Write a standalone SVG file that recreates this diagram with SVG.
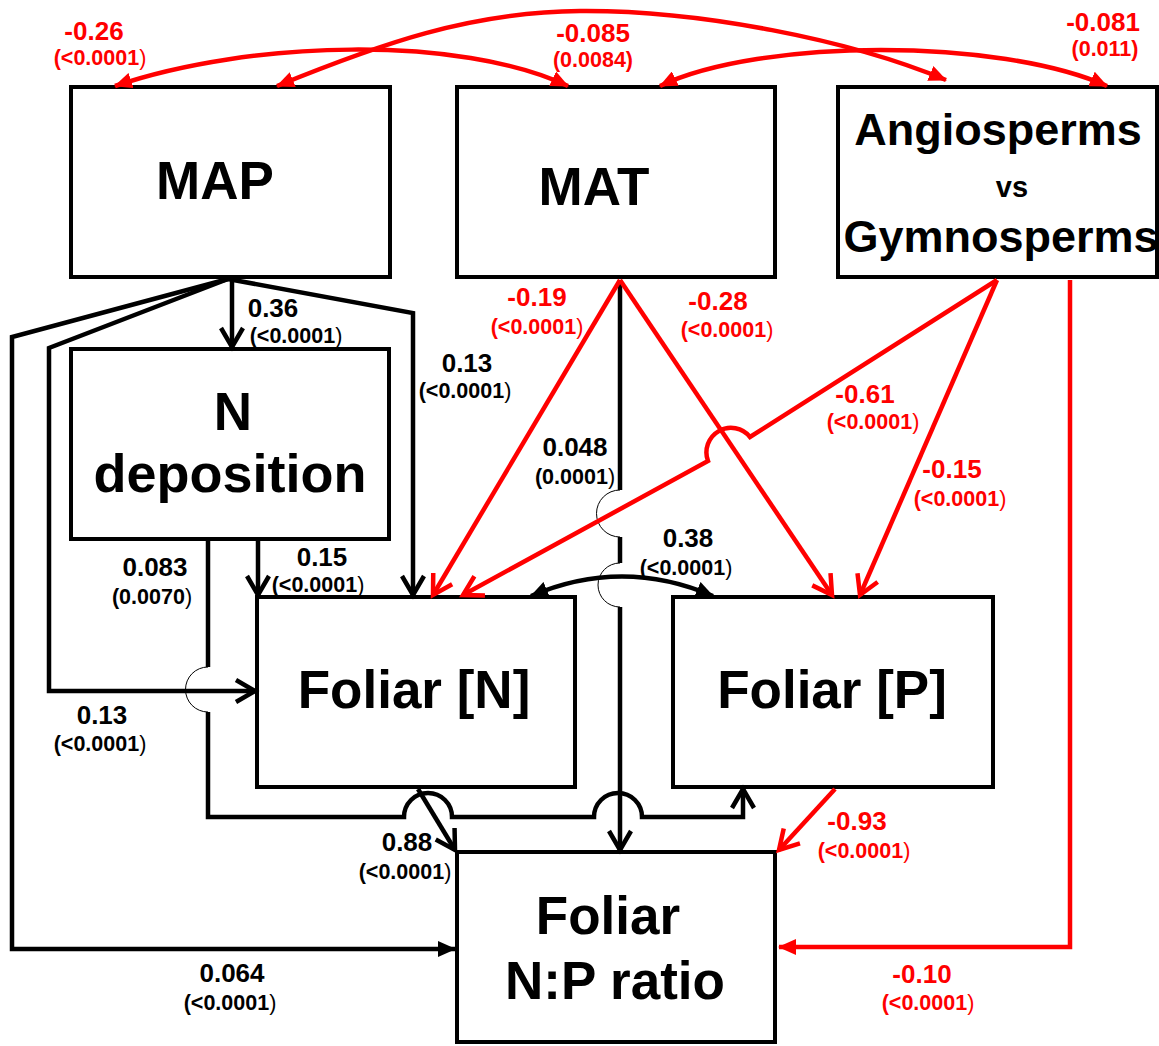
<svg xmlns="http://www.w3.org/2000/svg" width="1159" height="1046" viewBox="0 0 1159 1046">
<style>
.box{fill:#fff;stroke:#000;stroke-width:4}
.n{font-family:"Liberation Sans",Arial,sans-serif;font-weight:bold;font-size:53px;text-anchor:middle;fill:#000}
.c{font-family:"Liberation Sans",Arial,sans-serif;font-weight:bold;font-size:26px;text-anchor:middle}
.p{font-family:"Liberation Sans",Arial,sans-serif;font-weight:bold;font-size:21.5px;text-anchor:middle}
.k{fill:#000}
.r{fill:#f00}
.th{font-weight:normal}
.bl{fill:none;stroke:#000;stroke-width:4.5}
.rl{fill:none;stroke:#f00;stroke-width:4.5}
.hop{fill:none;stroke:#000;stroke-width:1}
</style>
<defs>
<marker id="ob" viewBox="0 0 24 24" markerWidth="24" markerHeight="24" refX="20" refY="12" orient="auto" markerUnits="userSpaceOnUse" style="overflow:visible">
<path d="M1,1 L20,12 L1,23" fill="none" stroke="#000" stroke-width="4.5"/>
</marker>
<marker id="or" viewBox="0 0 24 24" markerWidth="24" markerHeight="24" refX="20" refY="12" orient="auto" markerUnits="userSpaceOnUse" style="overflow:visible">
<path d="M1,1 L20,12 L1,23" fill="none" stroke="#f00" stroke-width="4.5"/>
</marker>
<marker id="fb" viewBox="0 0 18 16" markerWidth="18" markerHeight="16" refX="17" refY="8" orient="auto-start-reverse" markerUnits="userSpaceOnUse">
<path d="M0,0 L18,8 L0,16 z" fill="#000"/>
</marker>
<marker id="fr" viewBox="0 0 18 16" markerWidth="18" markerHeight="16" refX="17" refY="8" orient="auto-start-reverse" markerUnits="userSpaceOnUse">
<path d="M0,0 L18,8 L0,16 z" fill="#f00"/>
</marker>
</defs>
<rect width="1159" height="1046" fill="#fff"/>

<g id="node-map"><rect class="box" x="71" y="87" width="319" height="190"/><text class="n" x="215" y="199">MAP</text></g>
<g id="node-mat"><rect class="box" x="457" y="87" width="318" height="190"/><text class="n" x="594" y="205">MAT</text></g>
<g id="node-angio"><rect class="box" x="838" y="87" width="319" height="190"/>
<text class="n" x="998" y="145" style="font-size:45px">Angiosperms</text>
<text class="n" x="1012" y="197" style="font-size:29px">vs</text>
<text class="n" x="1001" y="252" style="font-size:45px">Gymnosperms</text></g>
<g id="node-ndep"><rect class="box" x="71" y="349" width="318" height="190"/>
<text class="n" x="233" y="430">N</text><text class="n" x="230" y="492" style="font-size:54px">deposition</text></g>
<g id="node-foliarN"><rect class="box" x="257" y="597" width="318" height="190"/><text class="n" x="414" y="708">Foliar [N]</text></g>
<g id="node-foliarP"><rect class="box" x="673" y="597" width="320" height="190"/><text class="n" x="832" y="708">Foliar [P]</text></g>
<g id="node-np"><rect class="box" x="457" y="852" width="318" height="190"/>
<text class="n" x="608" y="934">Foliar</text><text class="n" x="615" y="999">N:P ratio</text></g>

<g id="connectors">
<!-- top correlations -->
<path class="rl" d="M115,86 C250,40 460,35 568,86" marker-start="url(#fr)" marker-end="url(#fr)"/>
<path class="rl" d="M277,86 C380,44 470,12 580,11 C700,10 850,40 946,80" marker-start="url(#fr)" marker-end="url(#fr)"/>
<path class="rl" d="M660,86 C760,38 1000,38 1107,86" marker-start="url(#fr)" marker-end="url(#fr)"/>
<!-- MAP paths -->
<path class="bl" d="M232,279 V347" marker-end="url(#ob)"/>
<path class="bl" d="M228,279 L413,313 V595" marker-end="url(#ob)"/>
<path class="bl" d="M228,279 L12,337 V949 H455" marker-end="url(#fb)"/>
<path class="bl" d="M228,279 L49,348 V691 H255" marker-end="url(#ob)"/>
<!-- N deposition paths -->
<path class="bl" d="M258,539 V595" marker-end="url(#ob)"/>
<path class="bl" d="M208,539 V667"/>
<path class="hop" d="M208,667 A22.5,22.5 0 0 0 208,712"/>
<path class="bl" d="M208,712 V817 H404 A24,24 0 0 1 452,817 H594 A24,24 0 0 1 642,817 H743 V789" marker-end="url(#ob)"/>
<!-- MAT paths -->
<path class="bl" d="M620,280 V490"/>
<path class="hop" d="M620,490 A23.5,23.5 0 0 0 620,537"/>
<path class="bl" d="M620,537 V563"/>
<path class="hop" d="M620,563 A22,22 0 0 0 620,607"/>
<path class="bl" d="M620,607 V850" marker-end="url(#ob)"/>
<path class="rl" d="M620,280 L433,595" marker-end="url(#or)"/>
<path class="rl" d="M620,280 L832,595" marker-end="url(#or)"/>
<!-- Angio paths -->
<path class="rl" d="M997,280 L750,437 A24.5,24.5 0 0 0 708,461 L463,595" marker-end="url(#or)"/>
<path class="rl" d="M997,280 L860,595" marker-end="url(#or)"/>
<path class="rl" d="M1070,280 V947 H779" marker-end="url(#fr)"/>
<!-- foliar paths -->
<path class="bl" d="M531,596 Q622,557 713,596" marker-start="url(#fb)" marker-end="url(#fb)"/>
<path class="bl" d="M418,789 L455,850" marker-end="url(#ob)"/>
<path class="rl" d="M835,789 L779,850" marker-end="url(#or)"/>
</g>

<g id="labels">
<text class="c r" x="94" y="40">-0.26</text><text class="p r" x="100" y="65">(&lt;0.0001<tspan class="th">)</tspan></text>
<text class="c r" x="593" y="42">-0.085</text><text class="p r" x="593" y="67">(0.0084)</text>
<text class="c r" x="1103" y="31">-0.081</text><text class="p r" x="1105" y="56">(0.011)</text>
<text class="c k" x="273" y="317">0.36</text><text class="p k" x="296" y="343">(&lt;0.0001<tspan class="th">)</tspan></text>
<text class="c k" x="467" y="372">0.13</text><text class="p k" x="465" y="398">(&lt;0.0001<tspan class="th">)</tspan></text>
<text class="c r" x="537" y="306">-0.19</text><text class="p r" x="537" y="334">(&lt;0.0001<tspan class="th">)</tspan></text>
<text class="c r" x="718" y="310">-0.28</text><text class="p r" x="727" y="337">(&lt;0.0001<tspan class="th">)</tspan></text>
<text class="c k" x="575" y="456">0.048</text><text class="p k" x="575" y="484">(0.0001<tspan class="th">)</tspan></text>
<text class="c r" x="865" y="403">-0.61</text><text class="p r" x="873" y="429">(&lt;0.0001<tspan class="th">)</tspan></text>
<text class="c r" x="952" y="478">-0.15</text><text class="p r" x="960" y="506">(&lt;0.0001<tspan class="th">)</tspan></text>
<text class="c k" x="688" y="547">0.38</text><text class="p k" x="686" y="575">(&lt;0.0001<tspan class="th">)</tspan></text>
<text class="c k" x="155" y="576">0.083</text><text class="p k" x="152" y="604">(0.0070<tspan class="th">)</tspan></text>
<text class="c k" x="322" y="566">0.15</text><text class="p k" x="318" y="592">(&lt;0.0001<tspan class="th">)</tspan></text>
<text class="c k" x="102" y="724">0.13</text><text class="p k" x="100" y="751">(&lt;0.0001<tspan class="th">)</tspan></text>
<text class="c k" x="407" y="851">0.88</text><text class="p k" x="405" y="879">(&lt;0.0001<tspan class="th">)</tspan></text>
<text class="c k" x="232" y="982">0.064</text><text class="p k" x="230" y="1010">(&lt;0.0001<tspan class="th">)</tspan></text>
<text class="c r" x="857" y="830">-0.93</text><text class="p r" x="864" y="858">(&lt;0.0001<tspan class="th">)</tspan></text>
<text class="c r" x="922" y="983">-0.10</text><text class="p r" x="928" y="1010">(&lt;0.0001<tspan class="th">)</tspan></text>
</g>
</svg>
